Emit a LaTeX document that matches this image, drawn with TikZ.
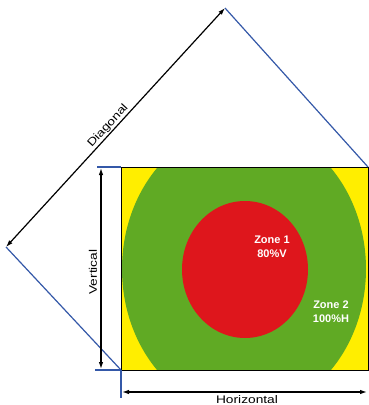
\documentclass[tikz,border=0pt]{standalone}
\usepackage{fontspec}
\setmainfont{Liberation Sans}
\newfontfamily\dimfont[FakeStretch=1.25]{Liberation Sans}
\usetikzlibrary{arrows.meta}
\definecolor{zoneyellow}{RGB}{255,238,0}
\definecolor{zonegreen}{RGB}{96,170,36}
\definecolor{zonered}{RGB}{222,22,28}
\definecolor{extblue}{RGB}{52,88,168}

\begin{document}
\begin{tikzpicture}[
    x=1pt, y=-1pt,
    dimarrow/.style={
        {Latex[length=7pt,width=4.5pt]}-{Latex[length=7pt,width=4.5pt]},
        line width=1.2pt,
        black
    },
    extline/.style={
        line width=1.2pt,
        draw=extblue
    },
    dimlabel/.style={
        inner sep=0pt,
        font=\dimfont\fontsize{11}{13}\selectfont
    },
    zonelabel/.style={
        inner sep=0pt,
        align=center,
        text=white,
        font=\bfseries\fontsize{11}{14}\selectfont
    }
]
\useasboundingbox (0,0) rectangle (368,405);

\coordinate (tl) at (121,167);
\coordinate (tr) at (368,167);
\coordinate (bl) at (121,370);
\coordinate (br) at (368,370);
\coordinate (apex) at (225,8);
\coordinate (dleft) at (6,247);
\coordinate (vtopext) at (97,167);
\coordinate (vbotext) at (95,370);
\coordinate (hext) at (121,398);
\coordinate (vtop) at (101,168);
\coordinate (vbot) at (101,369);
\coordinate (hleft) at (122,392);
\coordinate (hright) at (367,392);

\begin{scope}
    \clip (tl) rectangle (br);
    \fill[zoneyellow] (tl) rectangle (br);
    \fill[zonegreen] (244,269) ellipse [x radius=122, y radius=144];
    \fill[zonered] (245,269.5) ellipse [x radius=63, y radius=68.5];
\end{scope}
\draw[black, line width=0.8pt] (tl) rectangle (br);

\draw[extline] (tr) -- (apex);
\draw[extline] (dleft) -- (bl);
\draw[extline] (vtopext) -- (tl);
\draw[extline] (vbotext) -- (bl);
\draw[extline] (bl) -- (hext);

\draw[dimarrow] (dleft) -- (apex);
\draw[dimarrow] (vtop) -- (vbot);
\draw[dimarrow] (hleft) -- (hright);

\node[dimlabel, rotate=47.5] (diaglabel) at (108,126) {Diagonal};
\node[dimlabel, rotate=90] (vertlabel) at (93,272) {Vertical};
\node[dimlabel] (horizlabel) at (247,400) {Horizontal};

\node[zonelabel] (zone1) at (272,247) {Zone 1\\80\%V};
\node[zonelabel] (zone2) at (331,312) {Zone 2\\100\%H};

\end{tikzpicture}
\end{document}
